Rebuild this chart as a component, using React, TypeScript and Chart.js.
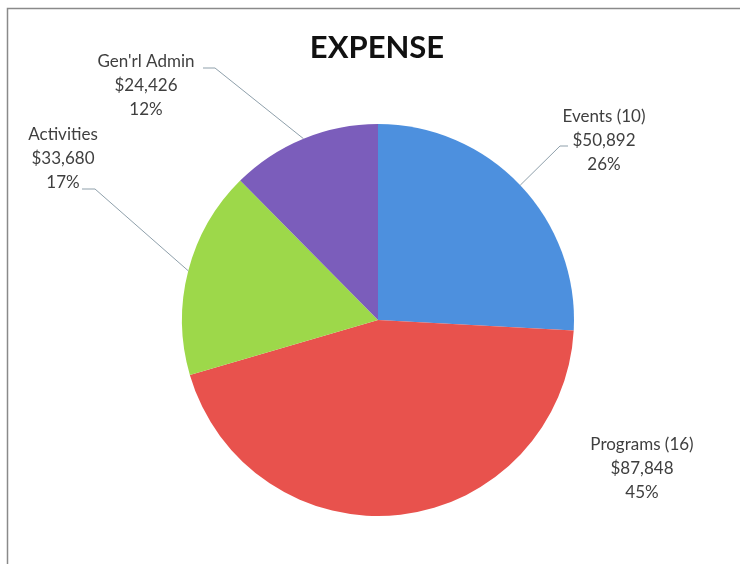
import React, { useEffect, useRef } from "react";
import { Chart, registerables } from "chart.js";

Chart.register(...registerables);

const TITLE = "EXPENSE";
const categories = ["Events (10)", "Programs (16)", "Activities", "Gen'rl Admin"];
const amounts = [50892, 87848, 33680, 24426];
const amountLabels = ["$50,892", "$87,848", "$33,680", "$24,426"];
const percentLabels = ["26%", "45%", "17%", "12%"];
const colors = ["#4d90de", "#e8524d", "#9dd84a", "#7b5dbb"];

// layout for label blocks: center x, first baseline y
const LABEL_LAYOUT = [
  { cx: 604, y: 122, lead: { fromX: 568, fromY: 146, bendX: 560 } },
  { cx: 642, y: 450, lead: null },
  { cx: 63, y: 140, lead: { fromX: 82, fromY: 189, bendX: 95 } },
  { cx: 146, y: 67, lead: { fromX: 203, fromY: 68, bendX: 215 } },
];

const FONT = "Lato, 'Noto Sans', sans-serif";

const labelPlugin = {
  id: "customLabels",
  beforeDraw(chart: any) {
    const ctx = chart.ctx;
    ctx.save();
    ctx.fillStyle = "#ffffff";
    ctx.fillRect(0, 0, chart.width, chart.height);
    ctx.strokeStyle = "#8a8a8a";
    ctx.lineWidth = 1.5;
    ctx.strokeRect(7.5, 8.5, 900, 800);
    ctx.restore();
  },
  afterDraw(chart: any) {
    const ctx = chart.ctx;
    ctx.save();
    ctx.fillStyle = "#111111";
    ctx.font = `bold 31px ${FONT}`;
    ctx.textAlign = "center";
    ctx.textBaseline = "alphabetic";
    ctx.fillText(TITLE, 377, 58);

    const meta = chart.getDatasetMeta(0);
    meta.data.forEach((arc: any, i: number) => {
      const p = arc.getProps(["x", "y", "startAngle", "endAngle", "outerRadius"], true);
      const lay = LABEL_LAYOUT[i];
      ctx.font = `17px ${FONT}`;
      ctx.fillStyle = "#3f3f3f";
      ctx.textAlign = "center";
      const lines = [categories[i], amountLabels[i], percentLabels[i]];
      lines.forEach((t, k) => ctx.fillText(t, lay.cx, lay.y + k * 24));
      if (lay.lead) {
        const mid = (p.startAngle + p.endAngle) / 2;
        const ex = p.x + Math.cos(mid) * p.outerRadius;
        const ey = p.y + Math.sin(mid) * p.outerRadius;
        ctx.strokeStyle = "#8fa0ab";
        ctx.lineWidth = 1;
        ctx.beginPath();
        ctx.moveTo(lay.lead.fromX, lay.lead.fromY);
        ctx.lineTo(lay.lead.bendX, lay.lead.fromY);
        ctx.lineTo(ex, ey);
        ctx.stroke();
      }
    });
    ctx.restore();
  },
};

export default function App() {
  const ref = useRef<HTMLCanvasElement | null>(null);
  useEffect(() => {
    if (!ref.current) return;
    const chart = new Chart(ref.current, {
      type: "pie",
      data: {
        labels: categories,
        datasets: [
          {
            data: amounts,
            backgroundColor: colors,
            borderWidth: 0,
          },
        ],
      },
      options: {
        animation: false,
        responsive: false,
        maintainAspectRatio: false,
        layout: { padding: { top: 124, bottom: 48, left: 182, right: 166 } },
        plugins: {
          legend: { display: false },
          tooltip: { enabled: false },
          title: { display: false },
        },
      },
      plugins: [labelPlugin],
    });
    return () => chart.destroy();
  }, []);
  return (
    <div style={{ position: "fixed", left: 0, top: 0, width: 740, height: 564, overflow: "hidden", background: "#fff" }}>
      <canvas ref={ref} width={740} height={564} style={{ display: "block", width: 740, height: 564 }} />
    </div>
  );
}
